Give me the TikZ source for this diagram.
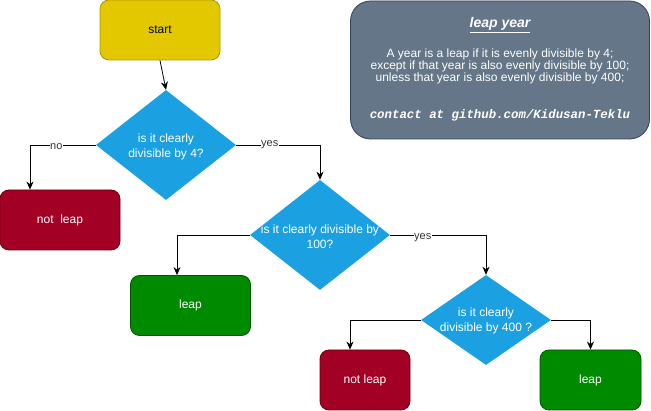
\documentclass[tikz,border=0pt]{standalone}
\usepackage{fontspec}
\setmainfont{Liberation Sans}
\newfontfamily\monof{Liberation Mono}
\usetikzlibrary{shapes.geometric,arrows.meta}
\definecolor{yelF}{HTML}{E3C800}
\definecolor{yelS}{HTML}{B09500}
\definecolor{bluF}{HTML}{1BA1E2}
\definecolor{redF}{HTML}{A20025}
\definecolor{redS}{HTML}{6F0000}
\definecolor{grnF}{HTML}{008A00}
\definecolor{grnS}{HTML}{005700}
\definecolor{gryF}{HTML}{647687}
\definecolor{gryS}{HTML}{314354}
\tikzset{
  box/.style={rectangle, rounded corners=9pt, draw, line width=0.8pt, inner sep=0pt,
    font=\fontsize{12}{14}\selectfont, text=white},
  diam/.style={diamond, fill=bluF, inner sep=0pt},
  dtext/.style={align=center, text=white, font=\fontsize{12}{15}\selectfont, inner sep=0pt},
  arr/.style={draw=black, line width=0.8pt, -{Stealth[length=8pt,width=7pt,inset=2.5pt]}},
  lbl/.style={fill=white, inner sep=0.5pt, font=\fontsize{11}{12}\selectfont, text=black!80},
}
\begin{document}
\begin{tikzpicture}[x=1pt,y=-1pt]
\useasboundingbox (0,0) rectangle (651,411);
% info box
\node[rectangle, rounded corners=20pt, draw=gryS, fill=gryF, line width=0.8pt,
  minimum width=299pt, minimum height=138pt, inner sep=0pt] (info) at (500,70) {};
\node[text=white, font=\fontsize{14}{16}\selectfont\bfseries\itshape, inner sep=0pt] (title) at (500,25) {\underline{leap year}};
\node[text=white, align=center, font=\fontsize{12}{12}\selectfont, inner sep=0pt] (body) at (500,66)
  {A year is a leap if it is evenly divisible by 4;\\except if that year is also evenly divisible by 100;\\unless that year is also evenly divisible by 400;};
\node[text=white, font=\fontsize{12.4}{14}\selectfont\monof\bfseries\itshape, inner sep=0pt] (contact) at (500,115) {contact at github.com/Kidusan-Teklu};
% nodes
\node[box, draw=yelS, fill=yelF, text=black, minimum width=120pt, minimum height=60pt] (start) at (160,30) {start};
\node[diam, minimum width=140pt, minimum height=110pt] (d1) at (166,145) {};
\node[dtext] (d1t) at (166,147) {is it clearly\\divisible by 4?};
\node[box, draw=redS, fill=redF, minimum width=120pt, minimum height=60pt] (nl1) at (60,220) {not\ \ leap};
\node[diam, minimum width=140pt, minimum height=110pt] (d2) at (320,235) {};
\node[dtext] (d2t) at (320,237) {is it clearly divisible by\\100?};
\node[box, draw=grnS, fill=grnF, minimum width=120pt, minimum height=60pt] (l1) at (190.5,305.5) {leap};
\node[diam, minimum width=130pt, minimum height=90pt] (d3) at (486,320) {};
\node[dtext] (d3t) at (486,321) {is it clearly\\divisible by 400 ?};
\node[box, draw=redS, fill=redF, minimum width=90pt, minimum height=60pt] (nl2) at (365,380) {not leap};
\node[box, draw=grnS, fill=grnF, minimum width=101pt, minimum height=60pt] (l2) at (590.5,380) {leap};
% connectors
\coordinate (nl1in) at ([xshift=-30pt]nl1.north);
\coordinate (l1in) at ([xshift=-13.5pt]l1.north);
\coordinate (nl2in) at ([xshift=-15pt]nl2.north);
\draw[arr] (start.south) -- (d1.north);
\draw[arr] (d1.west) -| (nl1in) node[lbl, pos=0.3, yshift=-2pt] {no};
\draw[arr] (d1.east) -| (d2.north) node[lbl, pos=0.2] {yes};
\draw[arr] (d2.west) -| (l1in);
\draw[arr] (d2.east) -| (d3.north) node[lbl, pos=0.17, yshift=-3pt] {yes};
\draw[arr] (d3.west) -| (nl2in);
\draw[arr] (d3.east) -| (l2.north);
\end{tikzpicture}
\end{document}
